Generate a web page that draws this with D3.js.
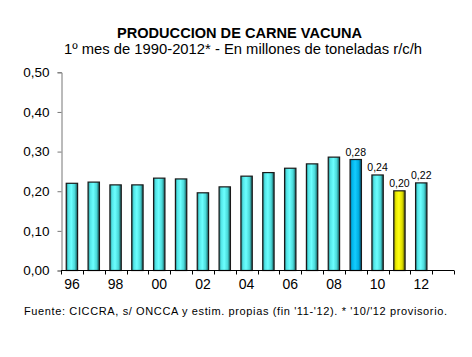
<!DOCTYPE html>
<html><head><meta charset="utf-8">
<script src="https://cdn.jsdelivr.net/npm/d3@7"></script>
<style>body{margin:0;background:#fff}svg{display:block}</style>
</head><body>
<svg id="c" width="472" height="357"></svg>
<script>
const categories = ["96","97","98","99","00","01","02","03","04","05","06","07","08","09","10","11","12","13"];
const values = [0.220,0.223,0.216,0.216,0.233,0.231,0.196,0.211,0.238,0.247,0.258,0.269,0.286,0.280,0.241,0.201,0.221,null];
const xTickLabels = ["96","98","00","02","04","06","08","10","12"];
const yTicks = [0,0.1,0.2,0.3,0.4,0.5];
const labeled = ["09","10","11","12"];
const colorKey = {"09":"blue","11":"yellow"};
const title = "PRODUCCION DE CARNE VACUNA";
const subtitle = "1º mes de 1990-2012* - En millones de toneladas r/c/h";
const footer = "Fuente: CICCRA, s/ ONCCA y estim. propias (fin '11-'12). * '10/'12 provisorio.";

const svg = d3.select("#c");
const font = "Arial, 'Liberation Sans', sans-serif";
const x = d3.scaleBand().domain(categories).range([61, 454]).paddingInner(0.48).paddingOuter(0.24);
const y = d3.scaleLinear().domain([0, 0.5]).range([270.5, 72.3]);

const defs = svg.append("defs");
function grad(id, stops){
  const g = defs.append("linearGradient").attr("id", id).attr("x1","0%").attr("x2","100%").attr("y1","0%").attr("y2","0%");
  stops.forEach(s => g.append("stop").attr("offset", s[0]).attr("stop-color", s[1]));
}
grad("gc", [["0%","#1f7f80"],["18%","#52e4e6"],["45%","#6cffff"],["75%","#4ad8d8"],["100%","#144e50"]]);
grad("gb", [["0%","#006d99"],["18%","#00b4e8"],["45%","#14ccff"],["75%","#00aee0"],["100%","#004a68"]]);
grad("gy", [["0%","#7f7f00"],["18%","#e6e600"],["45%","#ffff10"],["75%","#dede00"],["100%","#4e4e00"]]);

const data = categories.map((c,i)=>({c, v: values[i]})).filter(d => d.v != null);

svg.append("g").selectAll("rect").data(data).join("rect")
  .attr("x", d => x(d.c)).attr("width", x.bandwidth())
  .attr("y", d => y(d.v)).attr("height", d => y(0) - y(d.v))
  .attr("fill", d => colorKey[d.c] === "blue" ? "url(#gb)" : colorKey[d.c] === "yellow" ? "url(#gy)" : "url(#gc)")
  .attr("stroke", "#1a1a1a").attr("stroke-width", 1.2);

svg.append("g").selectAll("text").data(data.filter(d => labeled.includes(d.c))).join("text")
  .attr("x", d => x(d.c) + x.bandwidth()/2).attr("y", d => y(d.v) - 3.5)
  .attr("text-anchor","middle").attr("font-family", font).attr("font-size", 10.5).attr("fill","#000")
  .text(d => d3.format(".2f")(d.v).replace(".", ","));

// Y axis
const yAxis = svg.append("g").attr("transform","translate(61.5,0)")
  .call(d3.axisLeft(y).tickValues(yTicks).tickSize(4).tickPadding(8).tickFormat(d => d3.format(".2f")(d).replace(".", ",")));
yAxis.select(".domain").attr("stroke","#777");
yAxis.selectAll(".tick line").attr("stroke","#777");
yAxis.selectAll("text").attr("font-family", font).attr("font-size", 13.5).attr("fill","#000");

// X axis
const xg = svg.append("g").attr("transform","translate(0,270.5)");
xg.append("line").attr("x1", 61).attr("x2", 454).attr("stroke","#000");
const boundaries = categories.map(c => x(c) - x.step()*x.paddingInner()/2).concat([454]);
xg.selectAll("line.t").data(boundaries).join("line").attr("class","t")
  .attr("x1", d => Math.round(d)+0.5).attr("x2", d => Math.round(d)+0.5).attr("y1",0).attr("y2",4).attr("stroke","#000");
xg.selectAll("text").data(xTickLabels).join("text")
  .attr("x", d => x(d) + x.bandwidth()/2).attr("y", 18.5)
  .attr("text-anchor","middle").attr("font-family", font).attr("font-size", 14).attr("fill","#000").text(d => d);

svg.append("text").attr("x", 239.5).attr("y", 38).attr("text-anchor","middle")
  .attr("font-family", font).attr("font-size", 14).attr("font-weight","bold")
  .attr("textLength", 245).attr("lengthAdjust","spacingAndGlyphs").text(title);
svg.append("text").attr("x", 243).attr("y", 54).attr("text-anchor","middle")
  .attr("font-family", font).attr("font-size", 14)
  .attr("textLength", 358).attr("lengthAdjust","spacingAndGlyphs").text(subtitle);
svg.append("text").attr("x", 235.5).attr("y", 315).attr("text-anchor","middle")
  .attr("font-family", font).attr("font-size", 11).attr("textLength", 423).attr("lengthAdjust","spacing").text(footer);
</script>
</body></html>
